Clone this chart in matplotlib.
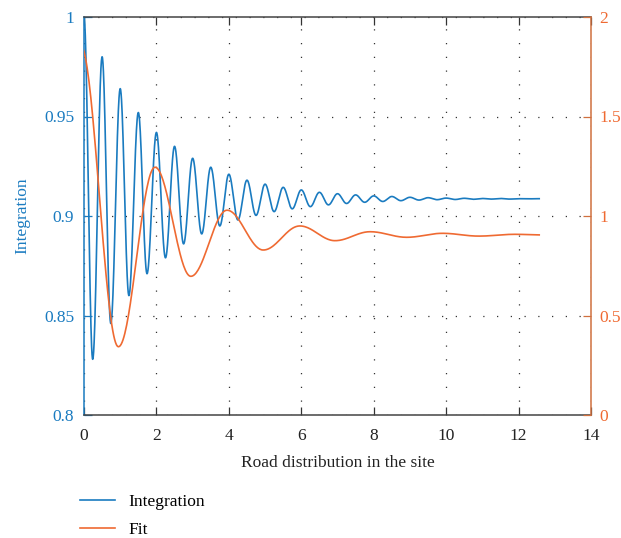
import numpy as np
import matplotlib
matplotlib.use("Agg")
import matplotlib.pyplot as plt

plt.rcParams['font.family'] = ['Liberation Serif', 'DejaVu Serif']
plt.rcParams['font.size'] = 12.5

# ---- data: extrema of each curve ----
# Integration (left axis): peaks and troughs
int_peak_x = [0.0, 0.5, 1.0, 1.5, 2.0, 2.5, 3.0, 3.5, 4.0, 4.5, 5.0, 5.5, 6.0,
              6.5, 7.0, 7.5, 8.0, 8.5, 9.0, 9.5, 10.0, 10.5, 11.0, 11.5, 12.0, 12.5]
int_peak_y = [1.000, 0.980, 0.964, 0.952, 0.942, 0.935, 0.929, 0.9245, 0.921, 0.918,
              0.916, 0.9144, 0.9131, 0.9119, 0.9112, 0.9106, 0.9101, 0.9098, 0.9094,
              0.9092, 0.9090, 0.9089, 0.9088, 0.9088, 0.9087, 0.9087]
int_trough_x = [0.24, 0.74, 1.24, 1.74, 2.25, 2.75, 3.25, 3.75, 4.25, 4.75, 5.25, 5.75,
                6.25, 6.75, 7.25, 7.75, 8.25, 8.75, 9.25, 9.75, 10.25, 10.75, 11.25,
                11.75, 12.25]
int_trough_y = [0.828, 0.846, 0.860, 0.871, 0.879, 0.886, 0.891, 0.895, 0.898, 0.9003,
                0.9022, 0.9036, 0.9047, 0.9056, 0.9063, 0.9069, 0.9073, 0.9077, 0.9080,
                0.9082, 0.9083, 0.9084, 0.9085, 0.9085, 0.9086]
int_end_x = 12.57
int_end_y = 0.9087

# Fit (right axis): alternating extrema
fit_x = [-0.10, 0.95, 1.96, 2.95, 3.95, 4.95, 5.96, 6.93, 7.90, 8.91, 9.90, 10.90, 11.90, 12.57]
fit_y = [1.86, 0.343, 1.245, 0.697, 1.029, 0.829, 0.950, 0.876, 0.921, 0.893, 0.913, 0.899, 0.908, 0.905]

x_ticks = [0, 2, 4, 6, 8, 10, 12, 14]
left_ticks = [0.8, 0.85, 0.9, 0.95, 1.0]
left_labels = ['0.8', '0.85', '0.9', '0.95', '1']
right_ticks = [0, 0.5, 1, 1.5, 2]
right_labels = ['0', '0.5', '1', '1.5', '2']

BLUE = '#1a7bc0'
ORANGE = '#ef6a32'


def smooth_path(xe, ye, n=40):
    xs, ys = [], []
    for i in range(len(xe) - 1):
        t = np.linspace(0, 1, n, endpoint=False)
        xs.append(xe[i] + (xe[i + 1] - xe[i]) * t)
        ys.append(ye[i] + (ye[i + 1] - ye[i]) * (1 - np.cos(np.pi * t)) / 2)
    xs.append([xe[-1]])
    ys.append([ye[-1]])
    return np.concatenate(xs), np.concatenate(ys)


pts = sorted(list(zip(int_peak_x, int_peak_y)) + list(zip(int_trough_x, int_trough_y)))
pts.append((int_end_x, int_end_y))
bx, by = smooth_path([p[0] for p in pts], [p[1] for p in pts])
ox, oy = smooth_path(fit_x, fit_y)

fig = plt.figure(figsize=(6.21, 5.38), dpi=100)
ax = fig.add_axes([84 / 621, 1 - 415 / 538, (591 - 84) / 621, (415 - 17) / 538])
ax2 = ax.twinx()

l1, = ax.plot(bx, by, color=BLUE, lw=1.2, label='Integration')
l2, = ax2.plot(ox, oy, color=ORANGE, lw=1.2, label='Fit')

ax.set_xlim(0, 14)
ax.set_ylim(0.8, 1.0)
ax2.set_ylim(0, 2)
ax.set_xticks(x_ticks)
ax.set_xticklabels([str(v) for v in x_ticks])
ax.set_yticks(left_ticks)
ax.set_yticklabels(left_labels)
ax2.set_yticks(right_ticks)
ax2.set_yticklabels(right_labels)

ax.grid(True, linestyle=(0, (1, 10)), color='#333333', lw=0.9)

ax.tick_params(axis='x', direction='in', top=True, bottom=True, length=5.5,
               width=0.9, color='#333333', pad=9, labelcolor='#222222')
ax.tick_params(axis='y', direction='in', left=True, right=False, length=5.5,
               width=0.9, color=BLUE, labelcolor=BLUE, pad=7)
ax2.tick_params(axis='y', direction='in', right=True, length=5.5, width=0.9,
                color='#d0703f', labelcolor=ORANGE, pad=6)

for s in ['top', 'bottom']:
    ax.spines[s].set_color('#444444')
    ax.spines[s].set_linewidth(1.1)
ax.spines['left'].set_color(BLUE)
ax.spines['left'].set_linewidth(1.1)
ax.spines['right'].set_visible(False)
for s in ['top', 'bottom', 'left']:
    ax2.spines[s].set_visible(False)
ax2.spines['right'].set_color('#d0703f')
ax2.spines['right'].set_linewidth(1.1)

ax.set_xlabel('Road distribution in the site', color='#222222', labelpad=8)
ax.set_ylabel('Integration', color=BLUE, labelpad=10)

fig.legend([l1, l2], ['Integration', 'Fit'], loc='upper left',
           bbox_to_anchor=(80 / 621, 1 - 494 / 538), frameon=False,
           handlelength=2.0, handletextpad=0.8, labelspacing=0.7,
           borderpad=0, borderaxespad=0, fontsize=12.5)

fig.savefig('out.png', dpi=100)
